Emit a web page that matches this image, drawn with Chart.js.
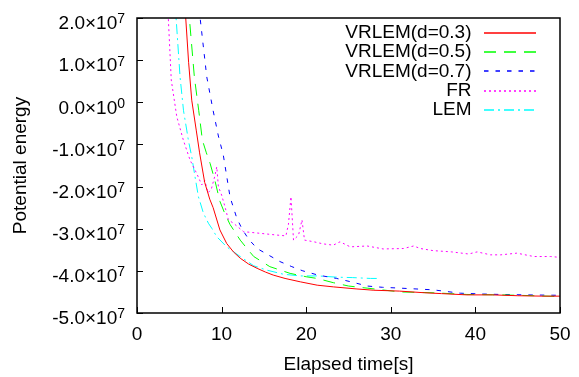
<!DOCTYPE html>
<html>
<head>
<meta charset="utf-8">
<script src="https://cdn.jsdelivr.net/npm/chart.js@4.4.1/dist/chart.umd.min.js"></script>
<style>
html, body { margin: 0; padding: 0; background: #fff; }
#wrap { width: 579px; height: 377px; }
</style>
</head>
<body>
<div id="wrap"><canvas id="pe-chart" width="579" height="377"></canvas></div>
<script>
// energies are in units of 1e7
const vr3Time   = [5.4, 5.76, 6.1, 6.47, 7.0, 7.4, 8.0, 8.6, 9.0, 9.8, 10.6, 11.4, 12.2, 13.2, 14.2, 15.2, 16.1, 17.5, 19.3, 21.3, 23.2, 26, 28, 31, 34, 36, 39, 42, 45, 48, 50];
const vr3Energy = [2.8, 2.0, 0.95, 0.05, -0.66, -1.2, -1.9, -2.3, -2.5, -3.03, -3.35, -3.55, -3.70, -3.84, -3.94, -4.03, -4.10, -4.18, -4.26, -4.34, -4.38, -4.43, -4.46, -4.48, -4.52, -4.54, -4.57, -4.57, -4.59, -4.6, -4.6];

const vr5Time   = [5.8, 6.19, 6.78, 7.3, 7.73, 8.2, 8.64, 9.2, 9.8, 10.4, 11.0, 12.2, 13.0, 13.8, 15.7, 18.1, 20, 21.3, 23.2, 25, 27.2, 31.1, 35, 39, 43, 47, 50];
const vr5Energy = [2.8, 2.0, 0.6, -0.2, -0.9, -1.2, -1.45, -1.85, -2.35, -2.65, -2.9, -3.27, -3.47, -3.66, -3.90, -4.06, -4.14, -4.18, -4.28, -4.36, -4.41, -4.5, -4.52, -4.56, -4.57, -4.59, -4.61];

const vr7Time   = [7.2, 7.46, 8.25, 9.0, 9.62, 10.2, 10.6, 11.0, 11.8, 12.4, 13.2, 14.2, 15.5, 16.9, 18.3, 19.6, 21.4, 23.6, 25.5, 27.2, 29, 31.1, 35, 38.2, 41, 43, 46, 50];
const vr7Energy = [2.5, 2.0, 0.6, -0.2, -0.8, -1.25, -1.75, -2.25, -2.75, -3.0, -3.25, -3.47, -3.62, -3.78, -3.9, -4.0, -4.1, -4.18, -4.27, -4.36, -4.39, -4.41, -4.45, -4.53, -4.55, -4.56, -4.57, -4.58];

const frTime   = [3.4, 3.7, 4.05, 4.7, 5.48, 6.27, 7.06, 7.66, 8.0, 8.4, 8.8, 9.2, 9.43, 9.62, 10.0, 10.4, 10.8, 11.4, 12.6, 14.6, 16.5, 17.6, 17.9, 18.2, 18.5, 18.7, 19.1, 19.5, 19.8, 20.9, 22.0, 23.2, 24.0, 25.2, 27.2, 29.1, 31.5, 32.7, 33.5, 35.0, 37.2, 39.2, 40.2, 41.8, 43.0, 44.9, 46.9, 48.9, 50];
const frEnergy = [2.8, 2.0, 0.53, -0.34, -0.9, -1.37, -1.69, -1.96, -1.85, -2.15, -2.05, -1.75, -1.53, -2.0, -2.2, -2.48, -2.79, -2.87, -3.07, -3.11, -3.15, -3.17, -2.9, -2.24, -3.27, -3.23, -3.15, -2.79, -3.27, -3.31, -3.36, -3.39, -3.31, -3.43, -3.41, -3.48, -3.47, -3.41, -3.47, -3.52, -3.55, -3.6, -3.55, -3.62, -3.62, -3.58, -3.66, -3.66, -3.68];

const lemTime   = [4.3, 4.62, 5.09, 5.5, 5.88, 6.07, 6.47, 6.86, 7.26, 7.85, 8.44, 8.84, 9.43, 10.6, 12.2, 13.8, 15.3, 17.3, 19.3, 21.4, 23.6, 25.5, 27.6, 28.4];
const lemEnergy = [2.8, 2.0, 0.6, -0.2, -0.66, -0.9, -1.29, -1.77, -2.24, -2.63, -2.87, -2.99, -3.19, -3.43, -3.66, -3.88, -3.98, -4.08, -4.12, -4.12, -4.15, -4.16, -4.18, -4.18];

const seriesNames  = ['VRLEM(d=0.3)', 'VRLEM(d=0.5)', 'VRLEM(d=0.7)', 'FR', 'LEM'];
const seriesColors = ['#ff0000', '#00ff00', '#0000ff', '#ff00ff', '#00ffff'];
const seriesDashes = [[], [12, 8], [4.5, 7], [2, 3], [10, 4, 2, 4]];

const xMin = 0, xMax = 50, xStep = 10;
const yMin = -5e7, yMax = 2e7, yStep = 1e7;

const FONT = '"Liberation Sans", Arial, sans-serif';

function toPoints(ts, es){
  var pts = [];
  for(var i = 0; i < ts.length; i++){
    pts.push({x: ts[i], y: es[i] * 1e7});
  }
  return pts;
}

const allSeries = [
  toPoints(vr3Time, vr3Energy),
  toPoints(vr5Time, vr5Energy),
  toPoints(vr7Time, vr7Energy),
  toPoints(frTime, frEnergy),
  toPoints(lemTime, lemEnergy)
];

const datasets = allSeries.map(function(pts, i){
  return {
    label: seriesNames[i],
    data: pts,
    borderColor: seriesColors[i],
    backgroundColor: seriesColors[i],
    borderDash: seriesDashes[i],
    borderWidth: 1,
    pointRadius: 0,
    tension: 0,
    fill: false
  };
});

// frame, inward ticks, y labels with exponents, legend on the right
const gnuplotLook = {
  id: 'gnuplotLook',
  afterDatasetsDraw(chart){
    const ctx = chart.ctx;
    const a = chart.chartArea;
    const xs = chart.scales.x, ys = chart.scales.y;
    ctx.save();
    ctx.setLineDash([]);
    ctx.strokeStyle = '#000';
    ctx.lineWidth = 1;
    ctx.beginPath();
    xs.ticks.forEach(function(t){
      const px = Math.round(xs.getPixelForValue(t.value)) + 0.5;
      ctx.moveTo(px, a.bottom); ctx.lineTo(px, a.bottom - 6);
    });
    ys.ticks.forEach(function(t){
      const py = Math.round(ys.getPixelForValue(t.value)) + 0.5;
      ctx.moveTo(a.left, py); ctx.lineTo(a.left + 6, py);
    });
    ctx.stroke();
    ctx.lineWidth = 1.5;
    ctx.strokeRect(a.left, a.top, a.right - a.left, a.bottom - a.top);

    // y tick labels like 2.0x10^7
    ctx.fillStyle = '#000';
    ctx.textAlign = 'right';
    ctx.textBaseline = 'middle';
    ys.ticks.forEach(function(t){
      const v = t.value;
      const py = ys.getPixelForValue(v);
      const mant = (v / 1e7).toFixed(1) + '\u00d710';
      const exp = v === 0 ? '0' : '7';
      ctx.font = '14px ' + FONT;
      const ew = ctx.measureText(exp).width;
      ctx.fillText(exp, 125, py + 1.5);
      ctx.font = '19px ' + FONT;
      ctx.fillText(mant, 125 - ew, py + 6);
    });

    // legend
    const textRight = 471.5, lineL = 484, lineR = 536;
    seriesNames.forEach(function(name, i){
      const yy = 32.5 + i * 19.4;
      ctx.font = '19px ' + FONT;
      ctx.textAlign = 'right';
      ctx.fillStyle = '#000';
      ctx.fillText(name, textRight, yy);
      ctx.strokeStyle = seriesColors[i];
      ctx.lineWidth = 1.5;
      ctx.setLineDash(seriesDashes[i]);
      ctx.beginPath();
      ctx.moveTo(lineL, Math.round(yy));
      ctx.lineTo(lineR, Math.round(yy));
      ctx.stroke();
    });
    ctx.restore();
  }
};

const chartBody = document.getElementById('pe-chart');

const config = {
  type: 'line',
  data: { datasets: datasets },
  options: {
    responsive: false,
    animation: false,
    layout: { padding: { top: 18, right: 19, left: 0, bottom: 0 } },
    plugins: {
      legend: { display: false },
      tooltip: { enabled: false }
    },
    scales: {
      x: {
        type: 'linear',
        min: xMin,
        max: xMax,
        grid: { display: false },
        border: { display: false },
        ticks: {
          stepSize: xStep,
          padding: 2,
          color: '#000',
          font: { family: FONT, size: 19 }
        },
        title: {
          display: true,
          text: 'Elapsed time[s]',
          color: '#000',
          font: { family: FONT, size: 19 },
          padding: { top: 0, bottom: 1 }
        },
        afterFit: function(scale){ scale.height = 64; }
      },
      y: {
        type: 'linear',
        min: yMin,
        max: yMax,
        grid: { display: false },
        border: { display: false },
        ticks: { stepSize: yStep, display: false },
        title: {
          display: true,
          text: 'Potential energy',
          color: '#000',
          font: { family: FONT, size: 19 },
          padding: { top: 9, bottom: 0 }
        },
        afterFit: function(scale){ scale.width = 137; }
      }
    }
  },
  plugins: [gnuplotLook]
};

const myChart = new Chart(chartBody, config);
</script>
</body>
</html>
